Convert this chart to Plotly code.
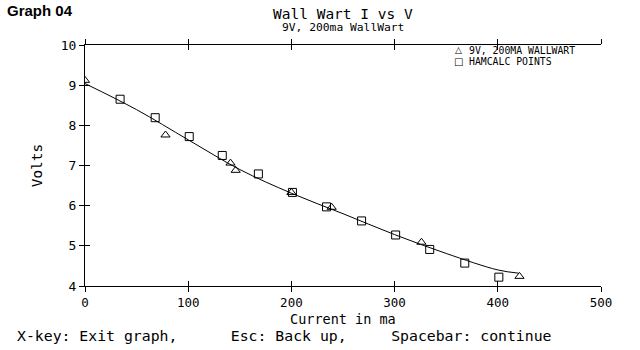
import plotly.graph_objects as go

# Measured wall-wart load points (current in mA, output volts)
meas_ma = [0, 78, 141, 146, 200, 239, 326, 421]
meas_v = [9.12, 7.76, 7.06, 6.88, 6.33, 5.96, 5.09, 4.24]

# HAMCALC computed points
calc_ma = [34, 68, 101, 133, 168, 201, 234, 268, 301, 334, 368, 401]
calc_v = [8.65, 8.19, 7.72, 7.25, 6.79, 6.33, 5.97, 5.62, 5.27, 4.91, 4.57, 4.22]

# Fitted curve through the data
fit_ma = [0, 50, 100, 150, 200, 250, 300, 350, 400, 420]
fit_v = [9.04, 8.39, 7.64, 6.90, 6.31, 5.80, 5.28, 4.81, 4.40, 4.32]

x_ticks = [0, 100, 200, 300, 400, 500]
y_ticks = [4, 5, 6, 7, 8, 9, 10]

MONO = "DejaVu Sans Mono"
W, H = 640, 350
ML, MR, MT, MB = 85, 39, 45, 64

fig = go.Figure()
fig.add_trace(go.Scatter(x=fit_ma, y=fit_v, mode="lines", line=dict(color="black", width=1, shape="spline"),
                         showlegend=False, hoverinfo="skip"))
fig.add_trace(go.Scatter(x=calc_ma, y=calc_v, mode="markers", name="HAMCALC POINTS",
                         marker=dict(symbol="square-open", size=8, color="black", line=dict(width=1)),
                         showlegend=False))
fig.add_trace(go.Scatter(x=meas_ma, y=meas_v, mode="markers", name="9V, 200MA WALLWART",
                         marker=dict(symbol="triangle-up-open", size=8, color="black", line=dict(width=1)),
                         showlegend=False))
# empty trace that carries the inward-pointing tick axes
fig.add_trace(go.Scatter(x=[], y=[], xaxis="x2", yaxis="y2", showlegend=False, hoverinfo="skip"))

axis_common = dict(showgrid=False, zeroline=False, showline=True, linecolor="black", linewidth=1,
                   ticks="outside", ticklen=5, tickcolor="black", tickwidth=1)

fig.update_layout(
    width=W, height=H,
    margin=dict(l=ML, r=MR, t=MT, b=MB),
    paper_bgcolor="white", plot_bgcolor="white",
    font=dict(family=MONO, color="black", size=13),
    xaxis=dict(range=[0, 500], tickvals=x_ticks, mirror="ticks", tickfont=dict(size=12.5), **axis_common),
    yaxis=dict(range=[4, 10], tickvals=y_ticks,
               title=dict(text="Volts", font=dict(size=14.5), standoff=14), **axis_common),
    xaxis2=dict(range=[0, 500], tickvals=x_ticks, overlaying="x", anchor="y2", showticklabels=False,
                showgrid=False, zeroline=False, showline=False, mirror="ticks",
                ticks="inside", ticklen=5, tickcolor="black"),
    yaxis2=dict(range=[4, 10], tickvals=y_ticks, overlaying="y", anchor="x2", showticklabels=False,
                showgrid=False, zeroline=False, showline=False,
                ticks="inside", ticklen=5, tickcolor="black"),
    showlegend=False,
)


def px_note(text, x, y, size, family=MONO, xanchor="left"):
    """Annotation placed by pixel position (from the top-left of the page)."""
    return dict(text=text, showarrow=False, xref="paper", yref="paper",
                x=(x - ML) / (W - ML - MR), y=(H - y - MB) / (H - MT - MB),
                font=dict(family=family, size=size), xanchor=xanchor, yanchor="middle")


annotations = [
    px_note("<b>Graph 04</b>", 5, 10, 15, family="Liberation Sans"),
    px_note("Wall Wart I vs V", 343, 14, 14.5, xanchor="center"),
    px_note("9V, 200ma WallWart", 343, 27, 11.3, xanchor="center"),
    px_note("Current in ma", 343, 318.5, 13.5, xanchor="center"),
    px_note("X-key: Exit graph,      Esc: Back up,     Spacebar: continue", 15, 335, 14.8),
    px_note("\u25b3", 458, 50, 9, family="DejaVu Sans", xanchor="center"),
    px_note("\u25a1", 458, 61.5, 10, family="DejaVu Sans", xanchor="center"),
    px_note("9V, 200MA WALLWART", 467, 50, 9.8),
    px_note("HAMCALC POINTS", 467, 61.5, 9.8),
]
fig.update_layout(annotations=annotations)

fig.write_html("out.html")
